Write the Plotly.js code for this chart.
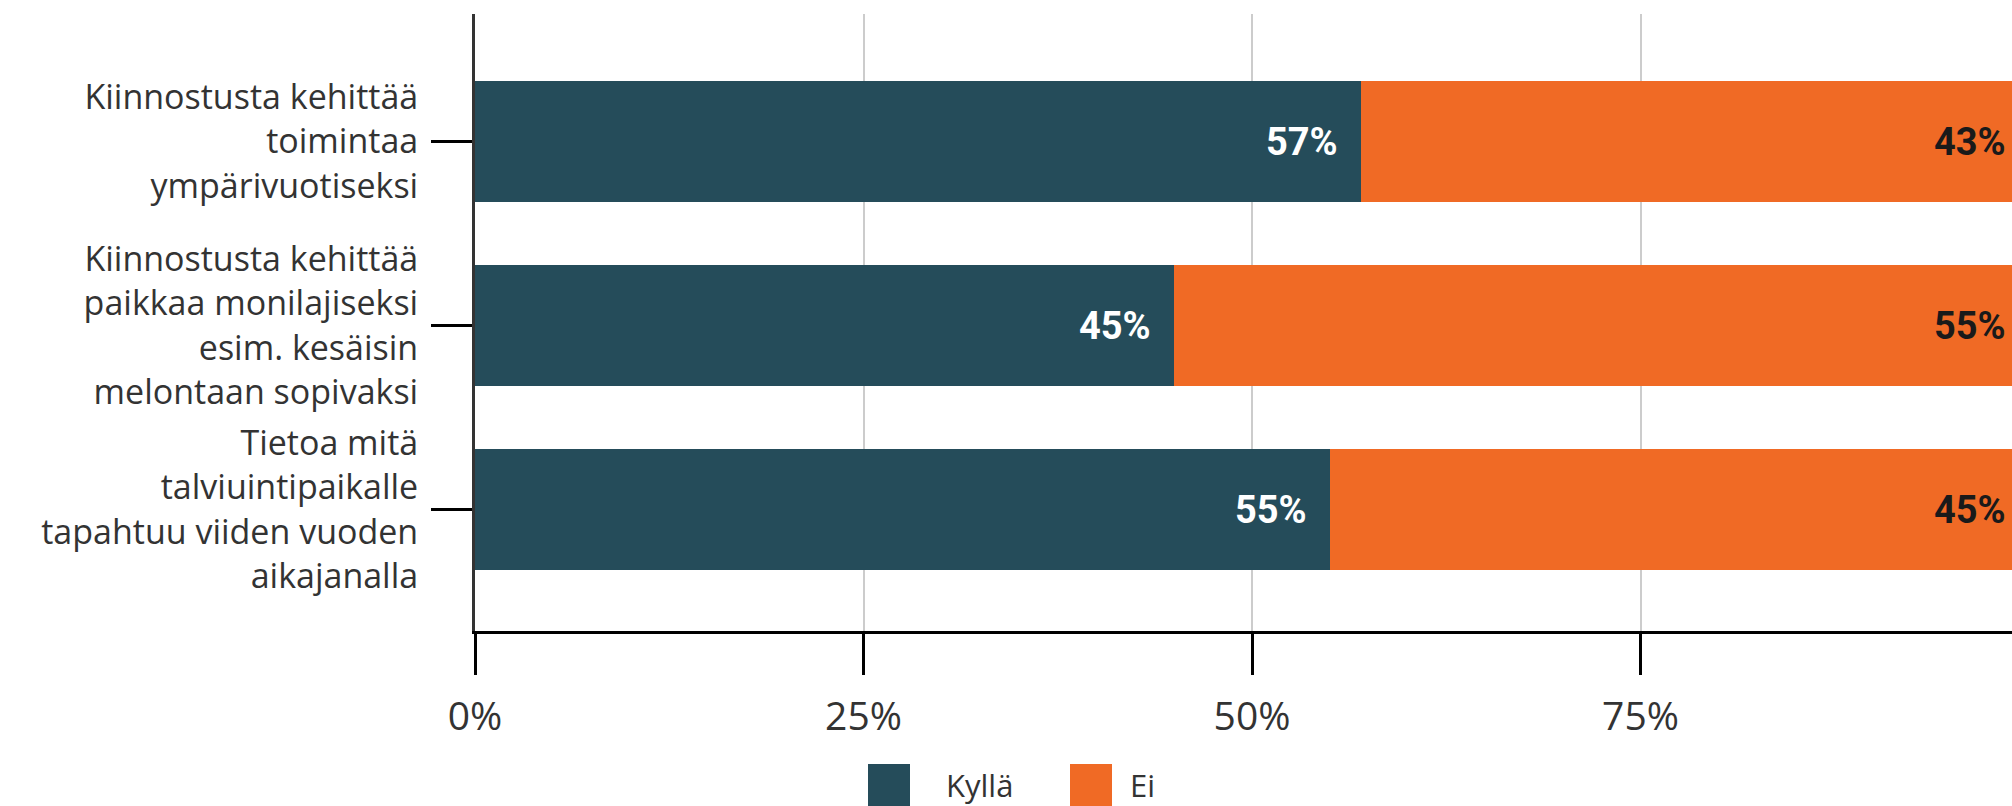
<!DOCTYPE html>
<html>
<head>
<meta charset="utf-8">
<script src="https://cdn.plot.ly/plotly-3.0.1.min.js"></script>
<style>
  html, body { margin: 0; padding: 0; background: #ffffff; overflow: hidden; }
  #chart { width: 2029px; height: 806px; }
</style>
</head>
<body>
<div id="chart"></div>
<script>
// ---- data ----
const categories = [
  "Kiinnostusta kehittää<br>toimintaa<br>ympärivuotiseksi",
  "Kiinnostusta kehittää<br>paikkaa monilajiseksi<br>esim. kesäisin<br>melontaan sopivaksi",
  "Tietoa mitä<br>talviuintipaikalle<br>tapahtuu viiden vuoden<br>aikajanalla"
];
const seriesNames = ["Kyllä", "Ei"];
const kyllaValues = [57, 45, 55];
const eiValues = [43, 55, 45];
const xTickValues = [0, 25, 50, 75];
const xTickLabels = ["0%", "25%", "50%", "75%"];

const colKylla = "#254c5a";
const colEi = "#f06a25";
const labelFont = "Open Sans, Noto Sans, sans-serif";
const valueFont = "Roboto, Liberation Sans, Arial, sans-serif";

const traces = [
  {
    type: "bar", orientation: "h", name: seriesNames[0],
    y: categories, x: kyllaValues,
    marker: { color: colKylla, line: { width: 0 } },
    hoverinfo: "none"
  },
  {
    type: "bar", orientation: "h", name: seriesNames[1],
    y: categories, x: eiValues,
    marker: { color: colEi, line: { width: 0 } },
    hoverinfo: "none"
  }
];

// value labels at the inner end of each segment
const valueAnnotations = [];
categories.forEach((c, i) => {
  valueAnnotations.push({
    xref: "x", yref: "y", x: kyllaValues[i], y: c,
    xanchor: "right", yanchor: "middle", xshift: -21, showarrow: false,
    text: kyllaValues[i] + "%",
    font: { family: valueFont, size: 38, color: "#ffffff", weight: "bold" }
  });
  valueAnnotations.push({
    xref: "x", yref: "y", x: kyllaValues[i] + eiValues[i], y: c,
    xanchor: "right", yanchor: "middle", xshift: -21, showarrow: false,
    text: eiValues[i] + "%",
    font: { family: valueFont, size: 38, color: "#1a1a1a", weight: "bold" }
  });
});

// legend drawn as shapes + annotations (paper coords)
const W = 2029, H = 806;
const mL = 475, mR = 0, mT = 14, mB = 175;
const pw = W - mL - mR, ph = H - mT - mB;
const px = x => (x - mL) / pw;
const py = y => (H - mB - y) / ph;

const legendItems = [
  { name: seriesNames[0], color: colKylla, sq: 868, tx: 944 },
  { name: seriesNames[1], color: colEi, sq: 1070, tx: 1128 }
];
const shapes = legendItems.map(it => ({
  type: "rect", xref: "paper", yref: "paper",
  x0: px(it.sq), x1: px(it.sq + 42), y0: py(764), y1: py(806),
  fillcolor: it.color, line: { width: 0 }, layer: "above"
}));
const legendAnnotations = legendItems.map(it => ({
  xref: "paper", yref: "paper", x: px(it.tx), y: py(785),
  xanchor: "left", yanchor: "middle", showarrow: false,
  text: it.name, font: { family: labelFont, size: 31, color: "#333333" }
}));

const layout = {
  width: W, height: H,
  margin: { l: mL, r: mR, t: mT, b: mB, pad: 0 },
  paper_bgcolor: "#ffffff", plot_bgcolor: "#ffffff",
  barmode: "stack", bargap: 0.342,
  showlegend: false,
  xaxis: {
    range: [0, 100], tickvals: xTickValues, ticktext: xTickLabels,
    showgrid: true, gridcolor: "#cccccc", gridwidth: 2,
    zeroline: false, showline: true, linecolor: "#000000", linewidth: 3,
    ticks: "outside", ticklen: 41, tickwidth: 3, tickcolor: "#000000",
    ticklabelstandoff: 8,
    tickfont: { family: labelFont, size: 39, color: "#333333" },
    fixedrange: true
  },
  yaxis: {
    range: [2.66, -0.693],
    showgrid: false, zeroline: false,
    showline: true, linecolor: "#333333", linewidth: 3,
    ticks: "outside", ticklen: 41, tickwidth: 3, tickcolor: "#000000",
    ticklabelstandoff: 6,
    tickfont: { family: labelFont, size: 34, color: "#333333" },
    fixedrange: true
  },
  shapes: shapes,
  annotations: valueAnnotations.concat(legendAnnotations),
  font: { family: labelFont }
};

Plotly.newPlot("chart", traces, layout, { displayModeBar: false, staticPlot: true });
</script>
</body>
</html>
